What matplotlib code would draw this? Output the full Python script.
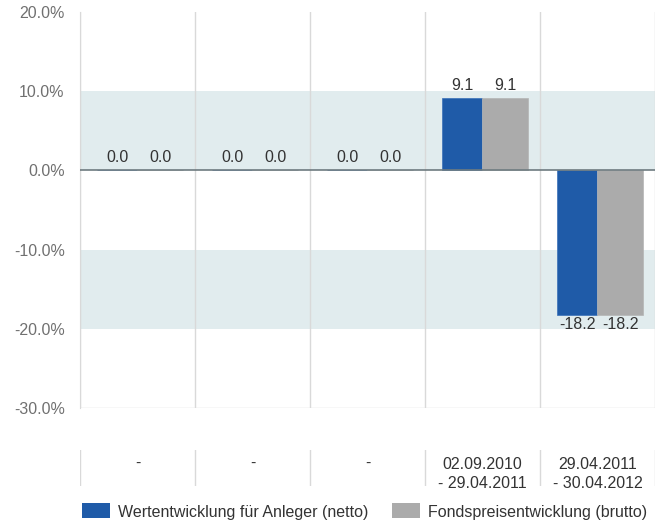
import matplotlib
matplotlib.use("Agg")
import matplotlib.pyplot as plt
from matplotlib.patches import Rectangle

plt.rcParams['font.family'] = ['Liberation Sans', 'DejaVu Sans']

categories = ["-", "-", "-", "02.09.2010\n- 29.04.2011", "29.04.2011\n- 30.04.2012"]
netto = [0.0, 0.0, 0.0, 9.1, -18.2]
brutto = [0.0, 0.0, 0.0, 9.1, -18.2]
series_names = ["Wertentwicklung für Anleger (netto)", "Fondspreisentwicklung (brutto)"]
yticks = [20, 10, 0, -10, -20, -30]

BLUE = "#1f5ba8"
GREY = "#ababab"
BAND = "#e1ecee"
TXT = "#333333"
FS = 11.5

W, H = 658, 521
fig = plt.figure(figsize=(W/100, H/100), dpi=100)

def fx(px):
    return px / W
def fy(py):
    return 1 - py / H

ax = fig.add_axes([fx(80), fy(408), fx(655) - fx(80), fy(12) - fy(408)])
ax.set_xlim(0, len(categories))
ax.set_ylim(-30, 20)

# bands
ax.axhspan(0, 10, color=BAND, zorder=0, lw=0)
ax.axhspan(-20, -10, color=BAND, zorder=0, lw=0)

# vertical grid
for i in range(len(categories) + 1):
    ax.axvline(i, color="#d9d9d9", lw=1, zorder=1)

bw_b = 0.35
bw_g = 0.40
xs = list(range(len(categories)))
bx = [x + 0.148 + bw_b / 2 for x in xs]
gx = [x + 0.148 + bw_b + bw_g / 2 for x in xs]
ax.bar(bx, netto, width=bw_b, color=BLUE, zorder=2, edgecolor="#3a70b8", lw=0.5)
ax.bar(gx, brutto, width=bw_g, color=GREY, zorder=2, edgecolor="#b5b5b5", lw=0.5)

ax.axhline(0, color="#6e7b80", lw=1.2, zorder=3)

for xlist, vals in ((bx, netto), (gx, brutto)):
    for x, v in zip(xlist, vals):
        va = "bottom" if v >= 0 else "top"
        ax.annotate(f"{v:.1f}", (x, v), xytext=(0, 4 if v >= 0 else -2), textcoords="offset points",
                    ha="center", va=va, fontsize=FS, color=TXT)

ax.set_yticks(yticks)
ax.set_yticklabels([f"{t:.1f}%" for t in yticks], fontsize=FS, color="#707070")
ax.tick_params(axis="y", length=0, pad=11)
ax.set_xticks([])
for s in ["top", "right", "bottom"]:
    ax.spines[s].set_visible(False)
ax.spines["left"].set_color("#d9d9d9")
ax.axhline(-30, color="#d9d9d9", lw=1, zorder=1)

# category table
tax = fig.add_axes([fx(80), fy(486), fx(655) - fx(80), fy(450) - fy(486)])
tax.set_xlim(0, len(categories))
tax.set_ylim(0, 1)
tax.axis("off")
for i in range(len(categories) + 1):
    tax.axvline(i, color="#d9d9d9", lw=1)
for i, c in enumerate(categories):
    tax.text(i + 0.5, 0.33 if "\n" in c else 0.62, c, ha="center", va="center",
             fontsize=FS, color=TXT, linespacing=1.35)

# legend
lax = fig.add_axes([0, 0, 1, fy(496)])
lax.set_xlim(0, W)
lax.set_ylim(H, 496)
lax.axis("off")
lax.add_patch(Rectangle((82, 503), 28, 15, color=BLUE, lw=0))
lax.text(118, 512, series_names[0], va="center", ha="left", fontsize=FS, color=TXT)
lax.add_patch(Rectangle((392, 503), 28, 15, color=GREY, lw=0))
lax.text(428, 512, series_names[1], va="center", ha="left", fontsize=FS, color=TXT)

fig.savefig("out.png", dpi=100)
